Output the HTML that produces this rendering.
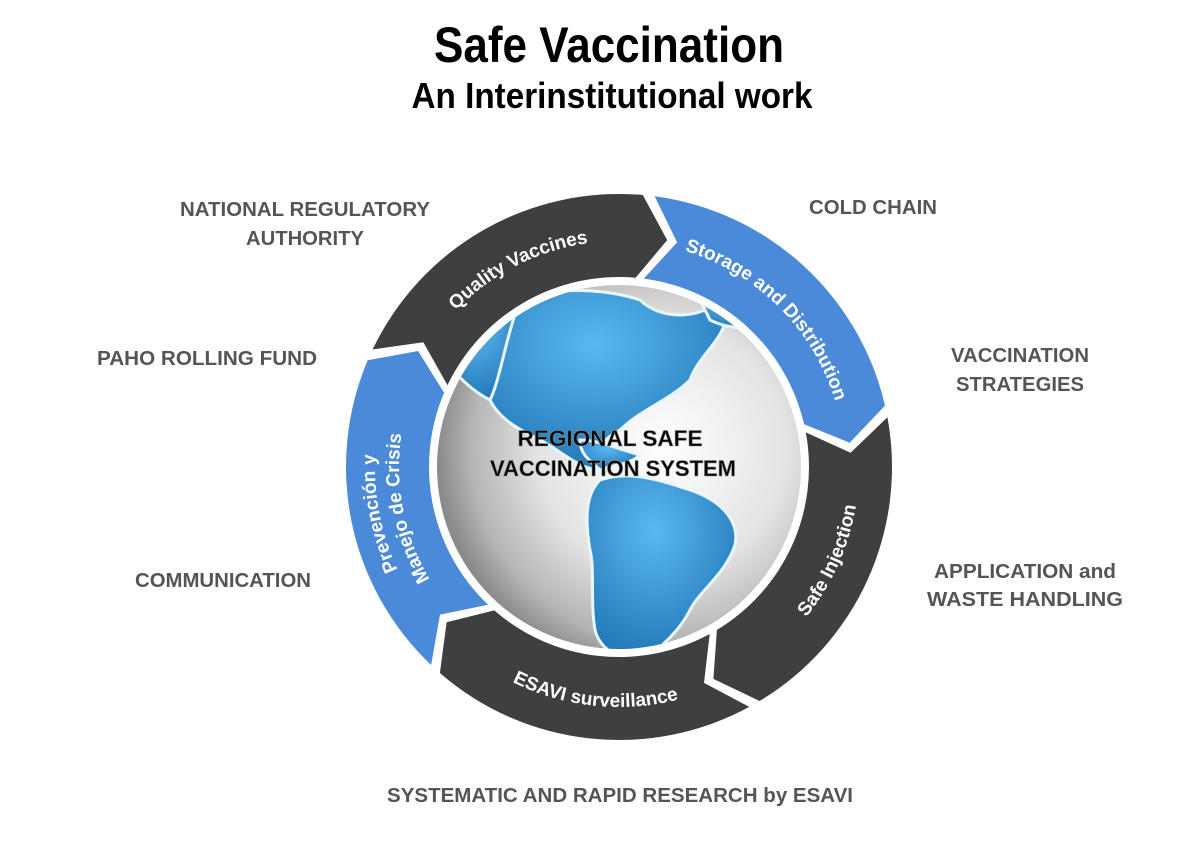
<!DOCTYPE html>
<html><head><meta charset="utf-8"><style>
html,body{margin:0;padding:0;background:#fff;width:1202px;height:859px;overflow:hidden}
svg{display:block}
.lab{font-family:"Liberation Sans",sans-serif;font-weight:bold;fill:#555;font-size:20px}
.seg{font-family:"Liberation Sans",sans-serif;font-weight:bold;fill:#fff;font-size:19px}
</style></head><body>
<svg width="1202" height="859" viewBox="0 0 1202 859" xmlns="http://www.w3.org/2000/svg">
<defs>
<radialGradient id="gl" cx="0.62" cy="0.45" r="0.62">
<stop offset="0" stop-color="#ffffff"/><stop offset="0.55" stop-color="#e4e4e4"/><stop offset="0.85" stop-color="#b5b5b5"/><stop offset="1" stop-color="#8a8a8a"/>
</radialGradient>
<radialGradient id="bl" cx="0.45" cy="0.3" r="0.8">
<stop offset="0" stop-color="#5ab8f0"/><stop offset="1" stop-color="#1a6fb0"/>
</radialGradient>
<clipPath id="gc"><circle cx="619" cy="467" r="182"/></clipPath>
<path id="p1" d=""/><path id="p2" d=""/><path id="p3" d=""/><path id="p4" d=""/><path id="p5a" d=""/><path id="p5b" d=""/>
</defs>

<text x="609" y="62" text-anchor="middle" font-family="Liberation Sans,sans-serif" font-weight="bold" font-size="50" textLength="350" lengthAdjust="spacingAndGlyphs">Safe Vaccination</text>
<text x="612" y="108" text-anchor="middle" font-family="Liberation Sans,sans-serif" font-weight="bold" font-size="36" textLength="401" lengthAdjust="spacingAndGlyphs">An Interinstitutional work</text>

<g id="ring"></g>

<circle cx="619" cy="467" r="182" fill="url(#gl)"/>
<g clip-path="url(#gc)" fill="url(#bl)" stroke="#e8f6ff" stroke-width="3">
<path d="M520 300 C560 285 610 290 640 300 C660 320 700 320 720 300 C740 330 700 350 690 380 C670 400 640 410 620 430 C600 440 590 460 600 470 C580 470 560 450 540 440 C520 430 500 420 490 400 C485 370 495 330 520 300Z"/>
<path d="M450 320 C470 300 500 295 520 300 C505 340 500 380 490 400 C470 390 450 370 440 350Z"/>
<path d="M700 300 C730 290 760 300 770 320 C750 330 730 330 710 320Z"/>
<path d="M600 480 C630 470 660 480 690 490 C720 500 740 520 735 545 C725 575 700 590 690 610 C680 630 660 650 640 660 C620 660 600 650 595 630 C590 600 595 570 590 550 C585 520 585 495 600 480Z"/>
<path d="M580 440 C600 440 620 450 640 455 C630 465 610 465 600 470 C590 460 580 455 580 440Z"/>
</g>
<text x="610" y="446" text-anchor="middle" font-family="Liberation Sans,sans-serif" font-weight="bold" font-size="22" fill="#000" stroke="#888" stroke-width="0.6" textLength="185" lengthAdjust="spacingAndGlyphs">REGIONAL SAFE</text>
<text x="613" y="476" text-anchor="middle" font-family="Liberation Sans,sans-serif" font-weight="bold" font-size="22" fill="#000" stroke="#888" stroke-width="0.6" textLength="246" lengthAdjust="spacingAndGlyphs">VACCINATION SYSTEM</text>

<text class="seg"><textPath href="#p1" startOffset="50%" text-anchor="middle">Quality Vaccines</textPath></text>
<text class="seg"><textPath href="#p2" startOffset="50%" text-anchor="middle">Storage and Distribution</textPath></text>
<text class="seg"><textPath href="#p3" startOffset="50%" text-anchor="middle">Safe Injection</textPath></text>
<text class="seg"><textPath href="#p4" startOffset="50%" text-anchor="middle">ESAVI surveillance</textPath></text>
<text class="seg"><textPath href="#p5a" startOffset="50%" text-anchor="middle">Prevención y</textPath></text>
<text class="seg"><textPath href="#p5b" startOffset="50%" text-anchor="middle">Manejo de Crisis</textPath></text>

<text class="lab" x="305" y="216" text-anchor="middle" textLength="250" lengthAdjust="spacingAndGlyphs">NATIONAL REGULATORY</text>
<text class="lab" x="305" y="245" text-anchor="middle" textLength="118" lengthAdjust="spacingAndGlyphs">AUTHORITY</text>
<text class="lab" x="873" y="214" text-anchor="middle" textLength="128" lengthAdjust="spacingAndGlyphs">COLD CHAIN</text>
<text class="lab" x="207" y="365" text-anchor="middle" textLength="220" lengthAdjust="spacingAndGlyphs">PAHO ROLLING FUND</text>
<text class="lab" x="1020" y="362" text-anchor="middle" textLength="138" lengthAdjust="spacingAndGlyphs">VACCINATION</text>
<text class="lab" x="1020" y="391" text-anchor="middle" textLength="128" lengthAdjust="spacingAndGlyphs">STRATEGIES</text>
<text class="lab" x="223" y="587" text-anchor="middle" textLength="176" lengthAdjust="spacingAndGlyphs">COMMUNICATION</text>
<text class="lab" x="1025" y="578" text-anchor="middle" textLength="182" lengthAdjust="spacingAndGlyphs">APPLICATION and</text>
<text class="lab" x="1025" y="606" text-anchor="middle" textLength="196" lengthAdjust="spacingAndGlyphs">WASTE  HANDLING</text>
<text class="lab" x="620" y="802" text-anchor="middle" textLength="466" lengthAdjust="spacingAndGlyphs">SYSTEMATIC AND RAPID RESEARCH by ESAVI</text>
</svg>
<script>
(function(){
var cx=619,cy=467,R=273,r=190,Rm=232,d=7,g=2.5;
function P(rad,a){a=a*Math.PI/180;return (cx+rad*Math.sin(a)).toFixed(1)+" "+(cy-rad*Math.cos(a)).toFixed(1);}
var b=[293,365,437,509,581,653];
var cols=["#3d403f","#4a8ad8","#3d403f","#3d403f","#4a8ad8"];
var ring=document.getElementById("ring"),h="";
for(var i=0;i<5;i++){
 var s=b[i]+g,e=b[i+1];
 var dd="M"+P(R,s)+" A"+R+" "+R+" 0 0 1 "+P(R,e)+" L"+P(Rm,e+d)+" L"+P(r,e)+" A"+r+" "+r+" 0 0 0 "+P(r,s)+" L"+P(Rm,s+d)+" Z";
 h+='<path d="'+dd+'" fill="'+cols[i]+'"/>';
}
ring.innerHTML=h;
function cw(id,rad,s,e){document.getElementById(id).setAttribute("d","M"+P(rad,s)+" A"+rad+" "+rad+" 0 0 1 "+P(rad,e));}
function ccw(id,rad,s,e){document.getElementById(id).setAttribute("d","M"+P(rad,s)+" A"+rad+" "+rad+" 0 0 0 "+P(rad,e));}
cw("p1",226,293,373);
cw("p2",226,8,82);
ccw("p3",240,150,78);
ccw("p4",240,222,150);
cw("p5a",244,220,298);
cw("p5b",220,220,298);
})();
</script>
</body></html>
